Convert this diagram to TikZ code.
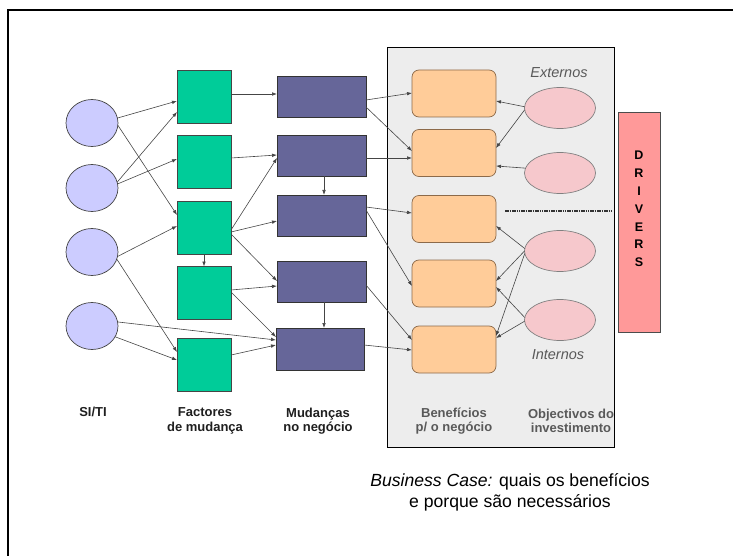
\documentclass[tikz,border=0pt]{standalone}
\usepackage{fontspec}
\setmainfont{Liberation Sans}
\usetikzlibrary{shapes.geometric,arrows.meta,calc}

\definecolor{siti}{HTML}{CCCCFF}
\definecolor{factor}{HTML}{00CC99}
\definecolor{change}{HTML}{666699}
\definecolor{benefit}{HTML}{FFCC99}
\definecolor{benefitline}{HTML}{8C6A4A}
\definecolor{objective}{HTML}{F6C8CC}
\definecolor{driver}{HTML}{FF9999}
\definecolor{panel}{HTML}{EDEDED}
\definecolor{wire}{HTML}{454545}

\begin{document}
\begin{tikzpicture}[x=1pt,y=-1pt,
  every node/.style={inner sep=0pt, outer sep=0pt},
  sitinode/.style={ellipse, draw=wire, fill=siti, line width=0.7pt,
    minimum width=52pt, minimum height=47pt},
  factornode/.style={rectangle, draw=wire, fill=factor, line width=0.8pt,
    minimum width=54pt, minimum height=53pt},
  changenode/.style={rectangle, draw=black!80, fill=change, line width=0.8pt,
    minimum width=89pt, minimum height=41pt},
  benefitnode/.style={rectangle, rounded corners=7pt, draw=benefitline, fill=benefit,
    line width=0.7pt, minimum width=84pt, minimum height=47pt},
  objnode/.style={ellipse, draw=gray, fill=objective, line width=0.7pt,
    minimum width=71pt, minimum height=41pt},
  link/.style={draw=wire, line width=0.6pt, -{Latex[length=5pt,width=3.6pt]}},
  collabel/.style={font=\fontsize{13}{14.5}\selectfont\bfseries, align=center, text=black!88},
  panellabel/.style={font=\fontsize{13}{14.5}\selectfont\bfseries, align=center, text=black!65},
  sidelabel/.style={font=\fontsize{14.5}{16}\selectfont\itshape, text=black!65},
]
\useasboundingbox (0,0) rectangle (733,556);

% page frame
\draw[line width=1.1pt] (8,556) -- (8,10) -- (733,10);

% business-case panel
\draw[fill=panel, line width=0.9pt] (387,47) rectangle (614,447);

% SI/TI
\node[sitinode] (c1) at (92,123) {};
\node[sitinode] (c2) at (92,188) {};
\node[sitinode] (c3) at (92,252) {};
\node[sitinode] (c4) at (92,326) {};

% factores de mudança
\node[factornode] (g1) at (204,96.5) {};
\node[factornode] (g2) at (204,161.5) {};
\node[factornode] (g3) at (204,228) {};
\node[factornode] (g4) at (204,293) {};
\node[factornode] (g5) at (204,365) {};

% mudanças no negócio
\node[changenode] (p1) at (321.5,96.5) {};
\node[changenode] (p2) at (321.5,156) {};
\node[changenode] (p3) at (321.5,215.5) {};
\node[changenode] (p4) at (321.5,281.5) {};
\node[changenode, minimum width=88pt, minimum height=42pt] (p5) at (320,349) {};

% benefícios
\node[benefitnode] (o1) at (454,93.5) {};
\node[benefitnode] (o2) at (454,153) {};
\node[benefitnode] (o3) at (454,219) {};
\node[benefitnode] (o4) at (454,283.5) {};
\node[benefitnode] (o5) at (454,349.5) {};

% objectivos do investimento
\node[objnode] (e1) at (560,108) {};
\node[objnode] (e2) at (560,173) {};
\node[objnode] (e3) at (560,251) {};
\node[objnode] (e4) at (560,320) {};

\node[sidelabel] (ext) at (559,73) {Externos};
\node[sidelabel] (int) at (558,355) {Internos};

% separator between external and internal drivers
\coordinate (sepa) at (505,211);
\coordinate (sepb) at (612,211);
\draw[line width=2.6pt, black!80, dash pattern=on 1.6pt off 0.7pt] (sepa) -- (sepb);

% drivers bar
\node[rectangle, draw=black!70, fill=driver, line width=0.9pt,
      minimum width=42pt, minimum height=220pt] (drivers) at (639,222) {};
\node[font=\fontsize{12.5}{17.8}\selectfont\bfseries, align=center] (driverstext)
      at (639,209) {D\\R\\I\\V\\E\\R\\S};

% SI/TI -> factores
\draw[link] (c1.11)  -- (g1.west |- 0,101);
\draw[link] (c1.-5)  -- (g3.west |- 0,215);
\draw[link] (c2.13)  -- (g1.west |- 0,112);
\draw[link] (c2.9)   -- (g2.west |- 0,159);
\draw[link] (c3.-10) -- (g3.west |- 0,226);
\draw[link] (c3.-16) -- (g5.west |- 0,352);
\draw[link] (c4.-25) -- (g5.west |- 0,360);
\draw[link] (c4.9)   -- (p5.west |- 0,340);
\draw[link] (g3.south) -- (g4.north);

% factores -> mudanças
\draw[link] (g1.east |- 0,94)  -- (p1.west |- 0,94);
\draw[link] (g2.east |- 0,158) -- (p2.west |- 0,155);
\draw[link] (g3.east |- 0,230) -- (p2.west |- 0,158);
\draw[link] (g3.east |- 0,232) -- (p3.west |- 0,221);
\draw[link] (g3.east |- 0,234) -- (p4.west |- 0,281);
\draw[link] (g4.east |- 0,290) -- (p4.west |- 0,286);
\draw[link] (g4.east |- 0,292) -- (p5.west |- 0,337);
\draw[link] (g5.east |- 0,355) -- (p5.west |- 0,345);
\draw[link] (p2.south -| 324,0) -- (p3.north -| 324,0);
\draw[link] (p4.south -| 324,0) -- (p5.north -| 324,0);

% mudanças -> benefícios
\draw[link] (p1.east |- 0,100) -- (o1.west |- 0,93);
\draw[link] (p1.east |- 0,107) -- (o2.west |- 0,151);
\draw[link] (p2.east |- 0,158) -- (o2.west |- 0,158);
\draw[link] (p3.east |- 0,207) -- (o3.west |- 0,213);
\draw[link] (p3.east |- 0,210) -- (o4.west |- 0,286);
\draw[link] (p4.east |- 0,285) -- (o5.west |- 0,340);
\draw[link] (p5.east |- 0,345) -- (o5.west |- 0,350);

% objectivos -> benefícios
\draw[link] (e1.178) -- (o1.east |- 0,101);
\draw[link] (e1.183) -- (o2.east |- 0,148);
\draw[link] (e2.172) -- (o2.east |- 0,166);
\draw[link] (e3.176) -- (o3.east |- 0,226);
\draw[link] (e3.180) -- (o4.east |- 0,281);
\draw[link] (e3.184) -- (o5.east |- 0,336);
\draw[link] (e4.176) -- (o4.east |- 0,287);
\draw[link] (e4.182) -- (o5.east |- 0,338);

% column labels
\node[collabel] (lsiti) at (93,411.5) {SI/TI};
\node[collabel] (lfact) at (205,421) {Factores\\de mudança};
\node[collabel] (lmud) at (318,421) {Mudanças\\no negócio};
\node[panellabel] (lben) at (454,421) {Benefícios\\p/ o negócio};
\node[panellabel] (lobj) at (571,421) {Objectivos do\\investimento};

% caption
\node[font=\fontsize{17.6}{21}\selectfont, align=center] (caption) at (510,492)
  {\textit{Business Case:} quais os benefícios\\e porque são necessários};
\end{tikzpicture}
\end{document}
